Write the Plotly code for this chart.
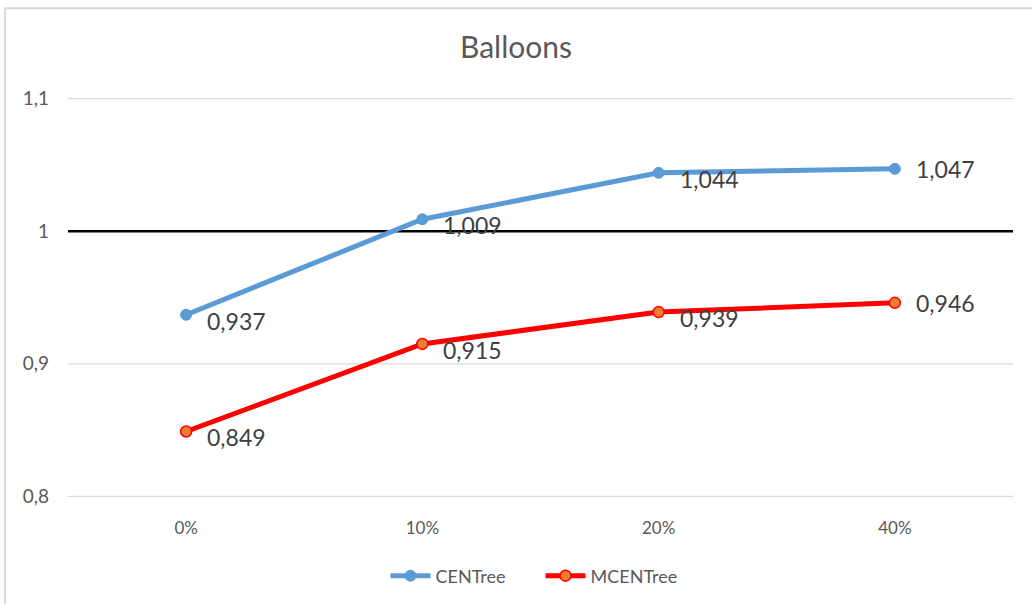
import plotly.graph_objects as go

categories = ["0%", "10%", "20%", "40%"]
centree = [0.937, 1.009, 1.044, 1.047]
mcentree = [0.849, 0.915, 0.939, 0.946]
centree_labels = ["0,937", "1,009", "1,044", "1,047"]
mcentree_labels = ["0,849", "0,915", "0,939", "0,946"]
y_ticks = [0.8, 0.9, 1.1]
y_tick_labels = ["0,8", "0,9", "1,1"]
ref_value = 1.0
ref_label = "1"

W, H = 1032, 605
L, R, T, B = 68, 19, 98, 107
FONT = "Lato, Open Sans, sans-serif"

fig = go.Figure()
fig.add_trace(go.Scatter(
    x=categories, y=centree, mode="lines+markers", name="CENTree",
    line=dict(color="#5B9BD5", width=5),
    marker=dict(color="#5B9BD5", size=11, line=dict(color="#5B9BD5", width=1)),
))
fig.add_trace(go.Scatter(
    x=categories, y=mcentree, mode="lines+markers", name="MCENTree",
    line=dict(color="#FF0000", width=5),
    marker=dict(color="#ED7D31", size=11, line=dict(color="#FF0000", width=1.5)),
))

annotations = []
for series, labels in ((centree, centree_labels), (mcentree, mcentree_labels)):
    for i, (c, v, t) in enumerate(zip(categories, series, labels)):
        annotations.append(dict(
            x=c, y=v, text=t, showarrow=False, xanchor="left", yanchor="middle",
            xshift=19, yshift=(-6 if i < 3 else 0),
            font=dict(family=FONT, size=23, color="#404040"),
        ))

pw = W - L - R
ph = H - T - B
x_left = (5 - L) / pw
y_top = (H - B - 8) / ph
y_bot = (H - B - H) / ph
x_right = (W - L) / pw

shapes = [
    dict(type="line", xref="paper", yref="y", x0=0, x1=1, y0=ref_value, y1=ref_value,
         line=dict(color="black", width=2.5), layer="between"),
    dict(type="line", xref="paper", yref="paper", x0=x_left, x1=x_right, y0=y_top, y1=y_top,
         line=dict(color="#D9D9D9", width=2)),
    dict(type="line", xref="paper", yref="paper", x0=x_left, x1=x_left, y0=y_top, y1=y_bot,
         line=dict(color="#D9D9D9", width=2)),
]

fig.update_layout(
    width=W, height=H,
    margin=dict(l=L, r=R, t=T, b=B),
    paper_bgcolor="white", plot_bgcolor="white",
    title=dict(text="Balloons", x=0.5, xanchor="center", y=1 - 47 / H, yanchor="middle",
               font=dict(family=FONT, size=30, color="#595959")),
    xaxis=dict(type="category", range=[-0.5, 3.5], showgrid=False, zeroline=False,
               showline=False, ticks="", ticklabelstandoff=19,
               tickfont=dict(family=FONT, size=17, color="#595959")),
    yaxis=dict(range=[0.7996, 1.1004], tickvals=y_ticks + [ref_value],
               ticktext=y_tick_labels + [ref_label],
               showgrid=False, zeroline=False,
               showline=False, ticks="", ticklabelstandoff=18,
               tickfont=dict(family=FONT, size=19, color="#595959")),
    legend=dict(orientation="h", x=0.5, xanchor="center", y=-(576 - (H - B)) / ph, yanchor="middle",
                font=dict(family=FONT, size=18, color="#595959"), itemwidth=40,
                entrywidth=100, entrywidthmode="pixels"),
    annotations=annotations,
    shapes=shapes,
    showlegend=True,
)

for v in y_ticks:
    fig.add_shape(type="line", xref="paper", yref="y", x0=0, x1=1, y0=v, y1=v,
                  line=dict(color="#D9D9D9", width=1.2), layer="below")

fig.write_html("out.html")
